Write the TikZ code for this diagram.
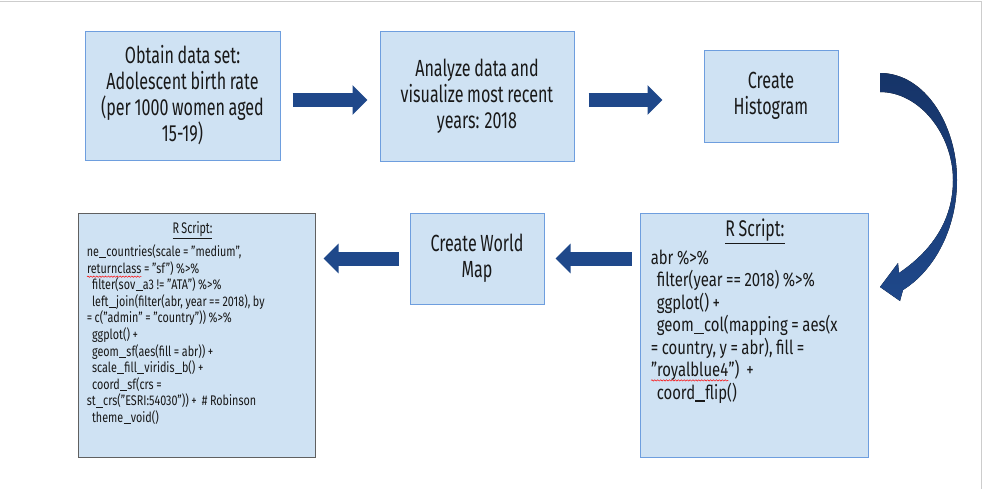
\documentclass[tikz,border=0pt]{standalone}
\usepackage{fontspec}
\setmainfont[FakeStretch=0.7,WordSpace=0.85]{Fira Sans}
\newfontfamily\stepfont[FakeStretch=0.69,WordSpace=0.85]{Fira Sans}
\newfontfamily\codefont[FakeStretch=0.77,WordSpace=0.9]{Fira Sans}
\usetikzlibrary{arrows.meta,calc,decorations.pathmorphing}

\definecolor{boxfill}{RGB}{207,226,243}
\definecolor{boxline}{RGB}{110,158,222}
\definecolor{codeline}{RGB}{96,96,96}
\definecolor{arrowblue}{RGB}{31,72,138}
\definecolor{arrowdark}{RGB}{22,52,104}
\definecolor{framegray}{RGB}{205,205,205}

\newcommand\redwave[1]{\tikz[baseline=(w.base), reset cm]{\node[inner sep=0pt, outer sep=0pt] (w) {#1}; \draw[red, line width=0.35pt, decorate, decoration={snake, amplitude=0.5pt, segment length=2.2pt}] ([yshift=-2.6pt]w.base west) -- ([yshift=-2.6pt]w.base east);}}
\newcommand\us{\kern0.2pt\rule[-0.12em]{0.5em}{0.08em}\kern0.2pt}

\tikzset{every picture/.style={line width=0.75pt}}
\tikzset{
  stepnode/.style={draw=boxline, fill=boxfill, inner sep=0pt, align=center, text=black!90,
    font=\stepfont\fontsize{17.5}{19.5}\selectfont},
  scriptbox/.style={draw=boxline, fill=boxfill, inner sep=0pt},
  scripttitle/.style={inner sep=0pt, text=black!90},
  codetext/.style={inner sep=0pt, anchor=north west, align=flush left, text=black!90},
  blockarrow/.style={draw=arrowblue, line width=10.5pt, -{Triangle[length=11.25pt,width=21.75pt]}}
}

\begin{document}
\begin{tikzpicture}[x=0.75pt,y=0.75pt,yscale=-1,xscale=1]
	\useasboundingbox (0,0) rectangle (983,489);
	%Frame Lines
	\draw [framegray] (0,1.5) -| (981.5,489) ;

	%Shape: Rectangle [id:obtain]
	\node [stepnode, minimum width=146.25pt, minimum height=96.75pt] (obtain) at (182.5,95.5) {Obtain data set:\\Adolescent birth rate\\(per 1000 women aged\\15-19)};
	%Shape: Rectangle [id:analyze]
	\node [stepnode, minimum width=145.5pt, minimum height=97.5pt] (analyze) at (477,96) {Analyze data and\\visualize most recent\\years: 2018};
	%Shape: Rectangle [id:histogram]
	\node [stepnode, minimum width=100.5pt, minimum height=69pt] (histogram) at (771,96) {Create\\Histogram};
	%Shape: Rectangle [id:worldmap]
	\node [stepnode, minimum width=100.5pt, minimum height=68.25pt] (worldmap) at (477,258.5) {Create World\\Map};

	%Shape: Rectangle [id:rscriptright]
	\node [scriptbox, minimum width=171pt, minimum height=183pt] (rscriptright) at (754,335) {};
	% Text Node
	\node [scripttitle, font=\fontsize{17}{16.9}\selectfont] (histtitle) at ($(rscriptright.north)+(1,19)$) {\underline{R Script:}};
	% Text Node
	\node [codetext, text width=160pt, font=\codefont\fontsize{14.5}{16.9}\selectfont] (histcode) at ($(rscriptright.north west)+(11,37)$) {abr \%>\%\\
	\hspace*{4.5pt}filter(year == 2018) \%>\%\\
	\hspace*{4.5pt}ggplot() +\\
	\hspace*{4.5pt}geom\us col(mapping = aes(x\\
	= country, y = abr), fill =\\
	\redwave{”royalblue4}”) \ +\\
	\hspace*{4.5pt}coord\us flip()};

	%Shape: Rectangle [id:rscriptleft]
	\node [scriptbox, draw=codeline, minimum width=177.75pt, minimum height=183pt] (rscriptleft) at (196.5,335) {};
	% Text Node
	\node [scripttitle, font=\fontsize{11.5}{12.45}\selectfont] (maptitle) at ($(rscriptleft.north)+(-4,18)$) {\underline{R Script:}};
	% Text Node
	\node [codetext, text width=168pt, font=\codefont\fontsize{10.5}{12.45}\selectfont] (mapcode) at ($(rscriptleft.north west)+(9,32)$) {ne\us countries(scale = ”medium”,\\
	\redwave{returnclass} = ”sf”) \%>\%\\
	\hspace*{4pt}filter(sov\us a3 != ”ATA”) \%>\%\\
	\hspace*{4pt}left\us join(filter(abr, year == 2018), by\\
	= c(”admin” = ”country”)) \%>\%\\
	\hspace*{4pt}ggplot() +\\
	\hspace*{4pt}geom\us sf(aes(fill = abr)) +\\
	\hspace*{4pt}scale\us fill\us viridis\us b() +\\
	\hspace*{4pt}coord\us sf(crs =\\
	st\us crs(”ESRI:54030”)) + \ \# Robinson\\
	\hspace*{4pt}theme\us void()};

	%Block Arrows
	\draw [blockarrow, shorten <=9pt, shorten >=9pt] ($(obtain.east)+(0,4.5)$) -- ($(analyze.west)+(0,4)$) ;
	\draw [blockarrow, shorten <=10.5pt, shorten >=30.75pt] ($(analyze.east)+(0,4)$) -- ($(histogram.west)+(0,4)$) ;
	\draw [blockarrow, shorten <=6pt, shorten >=8.25pt] (worldmap.east -| rscriptright.west) -- (worldmap.east) ;
	\draw [blockarrow, shorten <=8.25pt, shorten >=6pt] (worldmap.west) -- (worldmap.west -| rscriptleft.east) ;

	%Curved Block Arrow
	\fill [top color=arrowdark, bottom color=arrowblue] (880,73) .. controls (925,73) and (957,125) .. (957,180) .. controls (957,228) and (935,270) .. (903,290) -- (900,301) -- (880,287) -- (898,263) -- (899,273) .. controls (930,252) and (953,222) .. (953,180) .. controls (953,135) and (920,92) .. (880,92) -- cycle ;

\end{tikzpicture}
\end{document}
